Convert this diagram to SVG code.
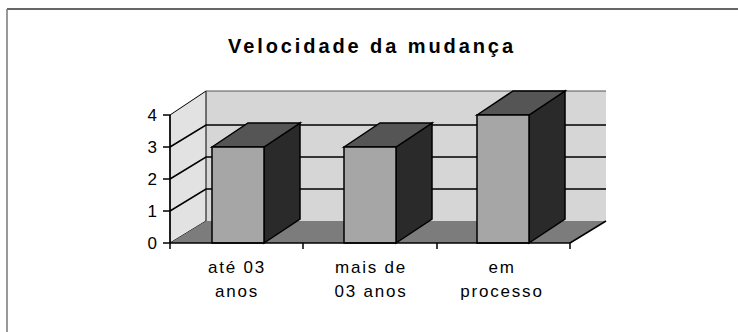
<svg xmlns="http://www.w3.org/2000/svg" width="738" height="332" viewBox="0 0 738 332">
<style>
.t{font-family:"Liberation Sans",Arial,sans-serif;fill:#000}
.ax{font-size:17px;text-anchor:end}
.cat{font-size:17px;text-anchor:middle;letter-spacing:1.8px}
.ln{stroke:#000;stroke-width:1.5;fill:none}
.front{fill:#a6a6a6;stroke:#000;stroke-width:1.5}
.side{fill:#2a2a2a;stroke:#000;stroke-width:1.5}
.top{fill:#555;stroke:#000;stroke-width:1.5}
</style>
<rect x="0" y="0" width="738" height="332" fill="#fff"/>
<g id="frame">
<line x1="7" y1="9" x2="738" y2="9" stroke="#333" stroke-width="1.5"/>
<line x1="7" y1="9" x2="7" y2="332" stroke="#777" stroke-width="1.5"/>
</g>
<text id="title" class="t" x="228" y="53" font-size="20" font-weight="bold" textLength="285" lengthAdjust="spacing">Velocidade da mudança</text>
<g id="walls">
<polygon points="206,91 606,91 606,221 206,221" fill="#d6d6d6"/>
<polygon points="170,115 206,91 206,221 170,243" fill="#e2e2e2" stroke="#000" stroke-width="1"/>
<polygon points="170,243 206,221 606,221 570,243" fill="#7c7c7c"/>
<line x1="206" y1="91" x2="606" y2="91" stroke="#555" stroke-width="1"/>
</g>
<g id="grid" class="ln">
<polyline points="170,211 206,189 606,189"/>
<polyline points="170,179 206,157 606,157"/>
<polyline points="170,147 206,125 606,125"/>
</g>
<g id="bar1">
<polygon class="side" points="264,243 300,219 300,123 264,147"/>
<polygon class="top" points="212,147 248,123 300,123 264,147"/>
<rect class="front" x="212" y="147" width="52" height="96"/>
</g>
<g id="bar2">
<polygon class="side" points="396,243 432,219 432,123 396,147"/>
<polygon class="top" points="344,147 380,123 432,123 396,147"/>
<rect class="front" x="344" y="147" width="52" height="96"/>
</g>
<g id="bar3">
<polygon class="side" points="529,243 565,219 565,91 529,115"/>
<polygon class="top" points="477,115 513,91 565,91 529,115"/>
<rect class="front" x="477" y="115" width="52" height="128"/>
</g>
<g id="axes" class="ln">
<line x1="170" y1="115" x2="170" y2="243"/>
<line x1="170" y1="243" x2="570" y2="243"/>
<line x1="570" y1="243" x2="606" y2="221"/>
<line x1="163" y1="115" x2="170" y2="115"/>
<line x1="163" y1="147" x2="170" y2="147"/>
<line x1="163" y1="179" x2="170" y2="179"/>
<line x1="163" y1="211" x2="170" y2="211"/>
<line x1="163" y1="243" x2="170" y2="243"/>
<line x1="170" y1="243" x2="170" y2="249"/>
<line x1="303" y1="243" x2="303" y2="249"/>
<line x1="437" y1="243" x2="437" y2="249"/>
<line x1="570" y1="243" x2="570" y2="249"/>
</g>
<g id="ylabels" class="t ax">
<text x="157" y="121">4</text>
<text x="157" y="153">3</text>
<text x="157" y="185">2</text>
<text x="157" y="217">1</text>
<text x="157" y="249">0</text>
</g>
<g id="xlabels" class="t cat">
<text x="237" y="273">até 03</text>
<text x="237" y="297">anos</text>
<text x="371" y="273">mais de</text>
<text x="371" y="297">03 anos</text>
<text x="502" y="273">em</text>
<text x="502" y="297">processo</text>
</g>
</svg>
